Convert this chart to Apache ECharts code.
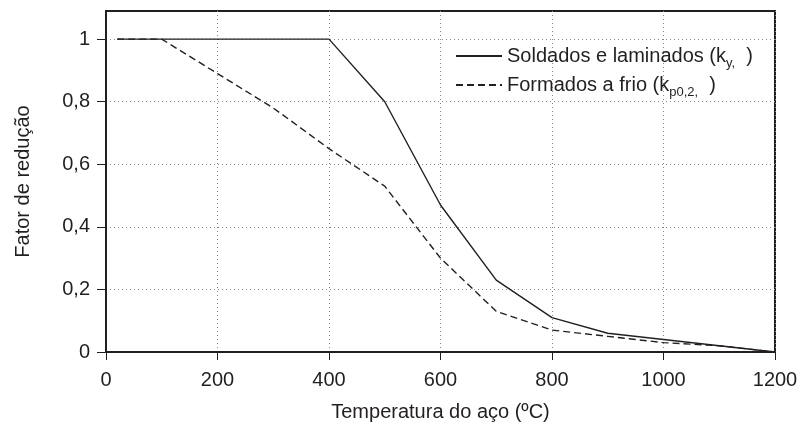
<!DOCTYPE html>
<html>
<head>
<meta charset="utf-8">
<script src="https://cdn.jsdelivr.net/npm/echarts@6/dist/echarts.min.js"></script>
<style>
  html, body { margin: 0; padding: 0; background: #fff; }
  #chart { width: 803px; height: 431px; }
</style>
</head>
<body>
<div id="chart"></div>
<script>
// temperaturas (ºC) e fatores de redução
var temperaturas = [20, 100, 200, 300, 400, 500, 600, 700, 800, 900, 1000, 1100, 1200];
var soldados = [1, 1, 1, 1, 1, 0.8, 0.47, 0.23, 0.11, 0.06, 0.04, 0.02, 0];
var formados = [1, 1, 0.89, 0.78, 0.65, 0.53, 0.30, 0.13, 0.07, 0.05, 0.03, 0.02, 0];
var yTicks = [0, 0.2, 0.4, 0.6, 0.8, 1];

var myChart = echarts.init(document.getElementById("chart"));
var fonte = "'Liberation Sans', Arial, sans-serif";
var cor = '#231f20';

function pares(xs, ys) {
    var out = [];
    for (var i = 0; i < xs.length; i++) {
        out.push([xs[i], ys[i]]);
    }
    return out;
}

var legendas = {
    'Soldados e laminados': 'Soldados e laminados (k{sub|y,}  )',
    'Formados a frio': 'Formados a frio (k{sub|p0,2,}  )'
};

var option = {
    animation: false,
    textStyle: { fontFamily: fonte },
    grid: {
        left: 106,
        right: 28,
        top: 11,
        bottom: 79,
        show: true,
        borderColor: cor,
        borderWidth: 2,
        backgroundColor: 'transparent'
    },
    legend: {
        left: 450,
        top: 41,
        orient: 'vertical',
        itemWidth: 46,
        itemHeight: 12,
        itemGap: 5,
        data: ['Soldados e laminados', 'Formados a frio'],
        itemStyle: { opacity: 0 },
        formatter: function (name) {
            return legendas[name];
        },
        textStyle: {
            color: cor,
            fontSize: 20,
            fontFamily: fonte,
            rich: {
                sub: {
                    fontSize: 13,
                    fontFamily: fonte,
                    color: cor,
                    verticalAlign: 'bottom',
                    lineHeight: 12,
                    padding: [0, 0, -4, 0]
                }
            }
        }
    },
    xAxis: {
        type: 'value',
        min: 0,
        max: 1200,
        interval: 200,
        name: 'Temperatura do aço (ºC)',
        nameLocation: 'middle',
        nameGap: 50,
        nameTextStyle: { fontSize: 20, color: cor, fontFamily: fonte },
        axisLine: { show: true, lineStyle: { color: cor, width: 2 } },
        axisTick: { show: true, length: 8, lineStyle: { color: cor, width: 1 } },
        axisLabel: {
            fontSize: 20,
            color: cor,
            margin: 18,
            fontFamily: fonte,
            formatter: function (v) {
                return String(v);
            }
        },
        splitLine: { show: true, lineStyle: { color: '#8a8a8a', type: [1, 3], width: 1 } }
    },
    yAxis: {
        type: 'value',
        min: 0,
        max: 1.09,
        interval: 0.2,
        name: 'Fator de redução',
        nameLocation: 'middle',
        nameGap: 73,
        nameTextStyle: { fontSize: 20, color: cor, fontFamily: fonte },
        axisLine: { show: true, lineStyle: { color: cor, width: 2 } },
        axisTick: { show: true, length: 9, customValues: yTicks, lineStyle: { color: cor, width: 1 } },
        axisLabel: {
            fontSize: 20,
            color: cor,
            margin: 16,
            fontFamily: fonte,
            customValues: yTicks,
            formatter: function (v) {
                return String(Math.round(v * 10) / 10).replace('.', ',');
            }
        },
        splitLine: { show: true, lineStyle: { color: '#8a8a8a', type: [1, 3], width: 1 } }
    },
    series: [
        {
            name: 'Soldados e laminados',
            type: 'line',
            symbol: 'none',
            data: pares(temperaturas, soldados),
            lineStyle: { color: cor, width: 1.4, type: 'solid' },
            itemStyle: { color: cor }
        },
        {
            name: 'Formados a frio',
            type: 'line',
            symbol: 'none',
            data: pares(temperaturas, formados),
            lineStyle: { color: cor, width: 1.4, type: [7, 4] },
            itemStyle: { color: cor }
        }
    ]
};
myChart.setOption(option);
</script>
</body>
</html>
